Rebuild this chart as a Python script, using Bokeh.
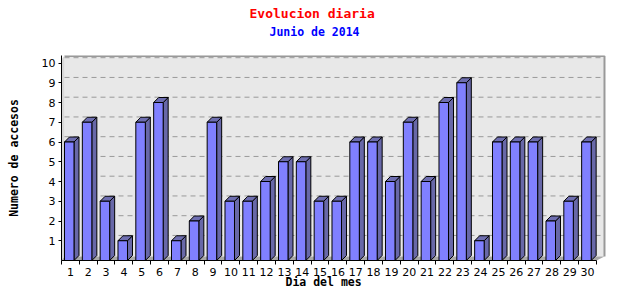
from bokeh.plotting import figure
from bokeh.models import Range1d, FixedTicker, Title
from bokeh.embed import file_html
from bokeh.resources import INLINE

# ---- data ----
days = list(range(1, 31))
visits = [6, 7, 3, 1, 7, 8, 1, 2, 7, 3, 3, 4, 5, 5, 3, 3, 6, 6, 4, 7,
          4, 8, 9, 1, 6, 6, 6, 2, 3, 6]
y_ticks = list(range(1, 11))

title_text = "Evolucion diaria"
subtitle_text = "Junio de 2014"
x_title = "Dia del mes"
y_title = "Numero de accesos"

# ---- geometry (pixels per data unit) ----
PXX = 17.833
PXY = 19.75
X0, X1 = 0.5, 0.5 + 545 / PXX
Y0, Y1 = 0.0, 205 / PXY

DX, DY = 5 / PXX, 5 / PXY          # bar depth
WX, WY = 3 / PXX, 4 / PXY          # wall offset
GY = 5.3 / PXY                     # gridline offset
FRONT_L, FRONT_W = 0.332, 9.5 / PXX

MONO = "DejaVu Sans Mono"

p = figure(width=640, height=300, x_range=Range1d(X0, X1), y_range=Range1d(Y0, Y1),
           min_border_left=61, min_border_right=34, min_border_top=55, min_border_bottom=40,
           output_backend="svg", toolbar_location=None)
p.outline_line_color = None
p.xgrid.visible = False
p.ygrid.visible = False
p.background_fill_color = "white"
p.border_fill_color = "white"
p.title.visible = False

last = days[-1] + 0.5
first = days[0] - 0.5
# back wall
p.patch([first + WX, last + 8 / PXX, last + 8 / PXX, first + WX],
        [WY, WY, Y1, Y1], fill_color="#e8e8e8", line_color=None)
# wall border (top + right)
p.line([first + WX, last + 8 / PXX, last + 8 / PXX], [Y1 - 0.03, Y1 - 0.03, WY],
       line_color="#999999", line_width=2)
# left side wall
p.patch([first, first + WX, first + WX, first], [0, WY, Y1, Y1 - WY],
        fill_color="#d8d8d8", line_color=None)
# floor
p.patch([first, last, last + 8 / PXX, first + WX], [0, 0, WY, WY],
        fill_color="#a8a8a8", line_color=None)

# gridlines on back wall
p.segment(x0=[first + WX] * len(y_ticks), x1=[last + 8 / PXX] * len(y_ticks),
          y0=[t + GY for t in y_ticks], y1=[t + GY for t in y_ticks],
          line_color="#999999", line_dash="5 4", line_width=1)

# 3D bars
lefts = [d - FRONT_L for d in days]
rights = [l + FRONT_W for l in lefts]
side_xs = [[r, r + DX, r + DX, r] for r in rights]
side_ys = [[0, DY, v + DY, v] for v in visits]
top_xs = [[l, r, r + DX, l + DX] for l, r in zip(lefts, rights)]
top_ys = [[v, v, v + DY, v + DY] for v in visits]
p.patches(side_xs, side_ys, fill_color="#6868a8", line_color="black", line_width=1)
p.patches(top_xs, top_ys, fill_color="#6e6eb0", line_color="black", line_width=1)
p.quad(left=lefts, right=rights, bottom=[0] * len(days), top=visits,
       fill_color="#8080ff", line_color="black", line_width=1)

# axes
xa = p.xaxis[0]
xa.ticker = FixedTicker(ticks=days, minor_ticks=[d - 0.5 for d in days] + [last])
xa.bounds = (first, last)
xa.major_tick_out = 0
xa.major_tick_in = 0
xa.minor_tick_out = 4
xa.minor_tick_in = 0
xa.minor_tick_line_color = "black"
xa.axis_line_color = "black"
xa.major_label_standoff = 3
xa.major_label_text_font = "DejaVu Sans"
xa.major_label_text_font_size = "11px"
xa.major_label_text_color = "black"

ya = p.yaxis[0]
ya.ticker = FixedTicker(ticks=y_ticks)
ya.major_tick_out = 3
ya.major_tick_in = 0
ya.minor_tick_out = 0
ya.axis_line_color = "black"
ya.major_label_standoff = 3
ya.major_label_text_font = "DejaVu Sans"
ya.major_label_text_font_size = "11px"
ya.major_label_text_color = "black"
ya.axis_label = y_title
ya.axis_label_standoff = 18
ya.axis_label_text_font = MONO
ya.axis_label_text_font_style = "bold"
ya.axis_label_text_font_size = "11.5px"
ya.axis_label_text_color = "black"

# x-axis title below the axis
p.add_layout(Title(text=x_title, align="left", offset=224, standoff=-12,
                   text_font=MONO, text_font_style="bold", text_font_size="11.5px",
                   text_color="black"), "below")

# titles (subtitle first: closest to the frame)
p.add_layout(Title(text=subtitle_text, align="left", offset=208, standoff=34,
                   text_font=MONO, text_font_style="bold", text_font_size="11.5px",
                   text_color="#0000ff"), "above")
p.add_layout(Title(text=title_text, align="left", offset=188, standoff=-31,
                   text_font=MONO, text_font_style="bold", text_font_size="13px",
                   text_color="#ff0000"), "above")

open("out.html", "w").write(file_html(p, INLINE))
